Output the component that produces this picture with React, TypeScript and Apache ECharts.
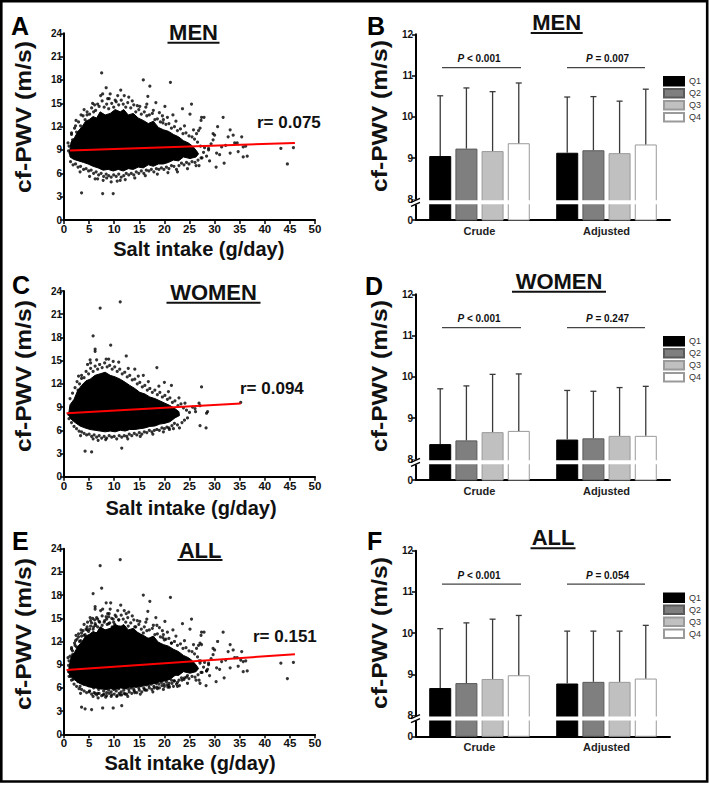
import React, { useEffect, useRef } from "react";
import * as echarts from "echarts";

const FONT = 'Arial, "Liberation Sans", Helvetica, sans-serif';

// ---------- Scatter panels (cf-PWV vs salt intake) ----------
// outline of the solid black (densest) area of the men's cloud
const menCore: number[][] = [
  [1.1, 8.7], [1.4, 10.0], [2.1, 10.6], [2.8, 11.4], [3.6, 12.0], [4.3, 12.7], [5.0, 12.9], [5.8, 13.3],
  [6.5, 13.1], [7.2, 13.9], [8.2, 13.5], [9.2, 13.7], [10.2, 14.2], [11.2, 13.9], [11.9, 14.2], [12.8, 13.5],
  [13.8, 13.7], [14.8, 13.1], [15.8, 12.8], [16.8, 12.4], [17.8, 12.7], [18.8, 11.9], [19.8, 11.6], [20.8, 11.4],
  [21.8, 11.0], [22.8, 10.7], [23.8, 10.2], [24.8, 9.9], [25.6, 9.5], [26.4, 8.9], [26.8, 8.5],
  [26.3, 8.1], [25.1, 7.9], [23.8, 8.1], [22.8, 7.6], [21.8, 7.7], [20.8, 7.4], [19.8, 7.2], [18.8, 7.2],
  [17.8, 6.9], [16.8, 7.1], [15.8, 6.7], [14.8, 6.8], [13.8, 6.5], [12.8, 6.6], [11.8, 6.3], [10.8, 6.5],
  [9.8, 6.3], [8.8, 6.5], [7.8, 6.4], [6.8, 6.7], [5.8, 6.9], [4.8, 7.2], [3.9, 7.4], [2.9, 7.6], [1.9, 7.8], [1.2, 8.1],
];
// individual men's points outside the solid area
const menPoints: number[][] = [
  // upper fringe
  [1.5, 11.2], [2.1, 11.8], [2.5, 11.3], [2.9, 12.6], [3.3, 12.1], [3.8, 13.4], [4.2, 12.9], [4.6, 13.9],
  [5.1, 13.6], [5.5, 14.4], [5.9, 13.9], [6.3, 14.1], [6.7, 14.9], [7.0, 14.6], [7.6, 15.3], [8.0, 14.5],
  [8.5, 14.9], [8.9, 14.3], [9.5, 15.0], [9.9, 14.5], [10.4, 15.2], [10.9, 14.8], [11.4, 15.4], [11.8, 14.9],
  [12.3, 14.5], [12.7, 15.1], [13.3, 14.4], [13.9, 14.8], [14.3, 13.9], [14.9, 14.2], [15.4, 13.6], [16.0, 13.9],
  [16.5, 13.4], [17.0, 13.5], [17.6, 13.7], [18.1, 12.9], [18.6, 13.0], [19.2, 12.6], [19.7, 12.5], [20.3, 12.3],
  [20.9, 12.4], [21.4, 11.8], [22.0, 12.0], [22.6, 11.5], [23.2, 11.7], [23.7, 11.1], [24.3, 11.2], [24.9, 10.8],
  [25.5, 10.7], [26.0, 10.4], [26.6, 10.0], [27.2, 9.5], [27.3, 12.8], [26.8, 11.5],
  [2.4, 12.8], [4.0, 14.2], [5.7, 15.0], [6.1, 14.8], [8.7, 15.6], [9.2, 16.2], [10.7, 16.0], [12.9, 15.8],
  [13.6, 15.3], [15.1, 14.6], [16.3, 14.5], [17.8, 14.1], [19.0, 13.8], [20.6, 13.2], [22.3, 12.7], [24.0, 12.1],
  [25.8, 11.6], [21.7, 13.5],
  // right tail
  [28.0, 9.3], [28.8, 9.0], [29.3, 9.8], [29.7, 11.1], [29.7, 10.3], [30.4, 8.6], [30.3, 6.8], [31.4, 9.4],
  [31.7, 13.2], [31.9, 7.3], [32.7, 10.7], [33.1, 11.6], [33.1, 8.6], [33.7, 10.9], [34.0, 9.9], [34.7, 8.8],
  [35.4, 10.7], [35.7, 9.4], [35.7, 8.1], [36.2, 9.5], [36.5, 8.2], [43.2, 9.2], [45.7, 9.3], [44.5, 7.2],
  [28.4, 8.2], [29.0, 7.6], [27.5, 8.0], [27.1, 11.8], [26.4, 11.1], [27.4, 13.2], [27.9, 13.2], [26.3, 7.0],
  [30.0, 10.9], [31.0, 8.4], [32.2, 9.6], [34.5, 9.9], [30.6, 12.0], [28.8, 9.2], [27.8, 8.7],
  // lower fringe
  [1.3, 7.5], [1.8, 7.1], [2.3, 7.2], [2.8, 6.8], [3.3, 6.9], [3.9, 6.5], [4.4, 6.6], [4.9, 6.3], [5.4, 6.4],
  [5.9, 6.0], [6.4, 6.2], [6.9, 5.8], [7.4, 6.0], [7.9, 5.6], [8.4, 5.9], [8.9, 5.7], [9.4, 5.5], [9.9, 5.8],
  [10.4, 5.6], [10.9, 5.9], [11.4, 5.5], [11.9, 5.7], [12.4, 6.0], [12.9, 5.8], [13.4, 6.0], [13.9, 5.8],
  [14.4, 6.2], [14.9, 6.0], [15.4, 6.3], [15.9, 6.0], [16.4, 6.4], [16.9, 6.3], [17.4, 6.5], [17.9, 6.2],
  [18.4, 6.6], [18.9, 6.5], [19.4, 6.7], [19.9, 6.5], [20.4, 6.8], [20.9, 6.6], [21.4, 7.0], [21.9, 6.9],
  [22.4, 6.5], [22.9, 7.0], [23.4, 7.3], [23.9, 7.1], [24.4, 7.4], [24.9, 7.2], [25.5, 7.5], [26.1, 7.4],
  [26.7, 7.7], [27.3, 8.0],
  [3.2, 6.2], [5.1, 5.6], [6.7, 5.3], [10.6, 5.0], [12.2, 5.2], [14.1, 5.4], [16.2, 5.7], [18.6, 5.9],
  [20.7, 6.1], [22.6, 6.2], [24.6, 6.6], [26.9, 7.0],
  // isolated low and high values
  [3.5, 3.5], [7.7, 3.4], [9.8, 3.4], [9.4, 4.9], [7.8, 5.1], [8.5, 5.4], [6.2, 5.3], [11.2, 5.1],
  [7.5, 18.9], [8.4, 17.0], [7.7, 16.2], [11.3, 16.7], [15.8, 18.0], [17.1, 17.2], [21.2, 17.7], [16.7, 15.9],
  [16.5, 14.9], [18.3, 15.1], [20.1, 14.6], [23.6, 14.3], [25.4, 14.9], [25.1, 13.6], [19.6, 13.4], [19.8, 12.9],
  [10.2, 15.4], [2.3, 12.1], [3.4, 13.5], [4.6, 13.5], [7.3, 16.0], [9.0, 15.6], [12.0, 16.0], [14.6, 14.7],
  // left edge
  [1.5, 11.0], [1.7, 10.3], [1.2, 8.6], [0.9, 8.9], [1.0, 9.5], [0.8, 9.9],
];
const womenCore: number[][] = [
  [0.9, 8.0], [1.2, 9.3], [2.0, 10.0], [2.7, 11.1], [3.5, 11.8], [4.4, 12.4], [5.2, 12.6], [6.2, 13.1],
  [7.2, 13.3], [8.2, 13.5], [9.2, 13.1], [10.2, 12.9], [11.2, 12.6], [12.2, 12.2], [13.1, 11.8], [14.1, 11.4],
  [15.1, 10.9], [16.1, 10.7], [17.1, 10.3], [18.1, 10.1], [19.1, 9.8], [20.1, 9.5], [21.1, 9.2], [22.1, 8.8],
  [22.9, 8.4], [23.0, 7.9], [22.1, 7.6], [21.1, 7.1], [20.1, 6.9], [19.1, 6.8], [18.1, 6.55], [17.1, 6.5],
  [16.1, 6.3], [15.1, 6.2], [14.1, 6.1], [13.1, 6.1], [12.2, 5.9], [11.2, 6.0], [10.2, 5.8], [9.2, 5.9],
  [8.2, 5.8], [7.2, 5.9], [6.2, 6.0], [5.2, 6.1], [4.2, 6.3], [3.2, 6.55], [2.2, 7.0], [1.3, 7.5],
];
const womenPoints: number[][] = [
  // upper fringe
  [1.2, 10.1], [1.7, 10.8], [2.2, 11.5], [2.6, 12.3], [3.1, 12.0], [3.5, 13.1], [4.0, 12.8], [4.4, 13.6],
  [4.9, 13.3], [5.3, 14.0], [5.8, 13.6], [6.2, 14.3], [6.7, 13.9], [7.1, 14.5], [7.6, 14.1], [8.1, 14.7],
  [8.6, 14.2], [9.1, 14.4], [9.6, 13.9], [10.1, 14.2], [10.6, 13.6], [11.1, 13.9], [11.6, 13.3], [12.1, 13.5],
  [12.6, 12.9], [13.1, 13.1], [13.6, 12.5], [14.1, 12.6], [14.6, 12.0], [15.1, 12.2], [15.6, 11.6], [16.1, 11.8],
  [16.6, 11.2], [17.1, 11.4], [17.6, 10.9], [18.1, 11.2], [18.6, 10.6], [19.1, 10.9], [19.6, 10.3], [20.1, 10.5],
  [20.6, 10.0], [21.1, 10.2], [21.6, 9.6], [22.1, 9.8], [22.7, 9.2], [23.3, 9.4], [23.8, 8.9], [24.4, 8.6],
  [25.0, 8.3], [24.6, 7.6], [24.0, 7.3], [23.5, 7.0],
  [2.9, 13.0], [4.7, 14.5], [6.5, 15.1], [8.9, 15.2], [10.9, 14.8], [12.8, 14.0], [14.8, 13.0], [16.8, 12.3],
  [18.9, 11.7], [20.8, 11.0], [22.9, 10.2],
  // lower fringe
  [1.0, 7.5], [1.5, 7.0], [2.0, 6.5], [2.5, 6.2], [3.0, 5.9], [3.5, 5.8], [4.0, 5.6], [4.5, 5.4], [5.0, 5.5],
  [5.5, 5.2], [6.0, 5.4], [6.5, 5.1], [7.0, 5.3], [7.5, 5.0], [8.0, 5.2], [8.5, 5.0], [9.0, 5.3], [9.5, 5.1],
  [10.0, 5.2], [10.5, 4.9], [11.0, 5.3], [11.5, 5.1], [12.0, 5.3], [12.5, 5.2], [13.0, 5.5], [13.5, 5.3],
  [14.0, 5.6], [14.5, 5.4], [15.0, 5.7], [15.5, 5.5], [16.0, 5.8], [16.5, 5.7], [17.0, 6.0], [17.5, 5.8],
  [18.0, 6.0], [18.5, 6.1], [19.0, 6.0], [19.5, 6.3], [20.0, 6.2], [20.5, 6.4], [21.0, 6.1], [21.5, 6.6],
  [22.0, 6.9], [22.6, 6.7],
  [3.3, 5.3], [5.8, 4.9], [8.3, 4.8], [12.7, 4.9], [15.2, 5.2], [17.7, 5.5], [19.8, 5.8], [23.0, 6.3],
  // isolated values
  [7.2, 21.8], [11.2, 22.6], [5.8, 18.2], [9.3, 17.0], [6.2, 16.5], [6.2, 16.2], [12.4, 15.6], [5.2, 15.1],
  [5.3, 14.7], [18.5, 14.1], [14.1, 13.9], [15.8, 13.1], [20.0, 12.2], [21.4, 11.8], [27.4, 11.6], [35.2, 9.6],
  [28.6, 8.4], [28.4, 8.2], [27.1, 9.2], [26.9, 9.5], [26.1, 8.8], [26.2, 8.4], [24.1, 9.5], [27.1, 6.6],
  [28.3, 6.3], [20.9, 6.3], [4.2, 3.3], [5.5, 3.2], [11.5, 3.7], [6.8, 4.7], [2.8, 11.2], [3.5, 12.7],
  [2.0, 9.5], [1.5, 8.4], [0.9, 8.1], [9.8, 14.9], [8.4, 15.2], [25.6, 9.0], [21.8, 6.2],
];
// regression lines [start, end]
const menFit: number[][] = [[1.2, 8.95], [46, 9.9]];
const womenFit: number[][] = [[0.5, 8.2], [35.2, 9.45]];
const allFit: number[][] = [[0.5, 8.3], [46, 10.35]];
const rValues = ["0.075", "0.094", "0.151"];

// ---------- Bar panels (quartiles of salt intake) ----------
const groups = ["Crude", "Adjusted"];
const quartiles = ["Q1", "Q2", "Q3", "Q4"];
// [quartile][crude, adjusted]
const menMeans = [[9.05, 9.13], [9.23, 9.19], [9.17, 9.12], [9.36, 9.33]];
const menUpper = [[10.51, 10.48], [10.70, 10.49], [10.61, 10.38], [10.82, 10.67]];
const womenMeans = [[8.37, 8.48], [8.46, 8.51], [8.66, 8.57], [8.69, 8.57]];
const womenUpper = [[9.71, 9.67], [9.78, 9.65], [10.06, 9.74], [10.07, 9.77]];
const allMeans = [[8.67, 8.78], [8.79, 8.82], [8.89, 8.82], [8.98, 8.90]];
const allUpper = [[10.11, 10.05], [10.25, 10.05], [10.34, 10.05], [10.43, 10.19]];
const menP = ["< 0.001", "= 0.007"];
const womenP = ["< 0.001", "= 0.247"];
const allP = ["< 0.001", "= 0.054"];
const barTicks = [7.5, 8, 9, 10, 11, 12];

const BAR_W = 22;
const BAR_GAP = 0.19;

const scatterGrids = [
  { left: 64, top: 33.3, width: 251, height: 186.7 },
  { left: 64, top: 291, width: 251, height: 185.7 },
  { left: 64, top: 548.7, width: 251, height: 185.6 },
];
const barGrids = [
  { left: 416, top: 34.3, width: 254, height: 185.7 },
  { left: 416, top: 294.3, width: 254, height: 185.7 },
  { left: 416, top: 550.7, width: 254, height: 185.6 },
];

const qColors = ["#000000", "#7f7f7f", "#c0c0c0", "#ffffff"];
const qBorders = ["#000000", "#5a5a5a", "#9a9a9a", "#9a9a9a"];

function coreSeries(core: number[][], idx: number) {
  return {
    type: "custom",
    xAxisIndex: idx,
    yAxisIndex: idx,
    data: core,
    silent: true,
    z: 2,
    renderItem: (params: any, api: any) => {
      if (params.dataIndex !== 0) return { type: "group", children: [] };
      const pts = core.map((p) => api.coord(p));
      return { type: "polygon", shape: { points: pts }, style: { fill: "#000", stroke: "#000", lineWidth: 1 } };
    },
  };
}

function errorSeries(means: number[][], upper: number[][], idx: number) {
  const data: number[][] = [];
  for (let q = 0; q < 4; q++) for (let c = 0; c < 2; c++) data.push([c, q, means[q][c], upper[q][c]]);
  return {
    type: "custom",
    xAxisIndex: idx,
    yAxisIndex: idx,
    data,
    silent: true,
    z: 5,
    encode: { x: 0, y: [2, 3] },
    renderItem: (_p: any, api: any) => {
      const c = api.value(0);
      const q = api.value(1);
      const lo = api.coord([c, api.value(2)]);
      const hi = api.coord([c, api.value(3)]);
      const x = lo[0] + (q - 1.5) * (BAR_W * (1 + BAR_GAP));
      const st = { stroke: "#3a3a3a", lineWidth: 1.3 };
      return {
        type: "group",
        children: [
          { type: "line", shape: { x1: x, y1: lo[1], x2: x, y2: hi[1] }, style: st },
          { type: "line", shape: { x1: x - 3, y1: hi[1], x2: x + 3, y2: hi[1] }, style: st },
        ],
      };
    },
  };
}

const axisLine = { show: true, onZero: false, lineStyle: { color: "#000", width: 2 } };
const axisTick = { show: true, length: 4, lineStyle: { color: "#000", width: 1.5 } };

export default function App() {
  const ref = useRef<HTMLDivElement>(null);
  useEffect(() => {
    if (!ref.current) return;
    const chart = echarts.init(ref.current, undefined, { renderer: "svg" });

    const xAxes: any[] = [];
    const yAxes: any[] = [];
    scatterGrids.forEach((_g, i) => {
      xAxes.push({
        type: "value", gridIndex: i, min: 0, max: 50, interval: 5,
        axisLine, axisTick, splitLine: { show: false },
        axisLabel: { fontSize: 11.5, fontWeight: "bold", color: "#111", fontFamily: FONT, margin: 3 },
      });
      yAxes.push({
        type: "value", gridIndex: i, min: 0, max: 24, interval: 3,
        axisLine, axisTick, splitLine: { show: false },
        axisLabel: { fontSize: 10, fontWeight: "bold", color: "#111", fontFamily: FONT, margin: 2 },
      });
    });
    barGrids.forEach((_g, i) => {
      xAxes.push({
        type: "category", gridIndex: 3 + i, data: groups,
        axisLine, axisTick: { show: false },
        axisLabel: { fontSize: 11, fontWeight: "bold", color: "#222", fontFamily: FONT, margin: 5 },
      });
      yAxes.push({
        type: "value", gridIndex: 3 + i, min: 7.5, max: 12, interval: 0.5,
        axisLine, splitLine: { show: false },
        axisTick: { ...axisTick, customValues: barTicks },
        axisLabel: {
          customValues: barTicks,
          fontSize: 10, fontWeight: "bold", color: "#111", fontFamily: FONT, margin: 3,
          formatter: (v: number) => (v === 7.5 ? "0" : String(v)),
        },
      });
    });

    const series: any[] = [];
    const cores = [[menCore], [womenCore], [menCore, womenCore]];
    const pts = [menPoints, womenPoints, menPoints.concat(womenPoints)];
    const fits = [menFit, womenFit, allFit];
    for (let i = 0; i < 3; i++) {
      cores[i].forEach((c) => series.push(coreSeries(c, i)));
      series.push({
        type: "scatter", xAxisIndex: i, yAxisIndex: i, data: pts[i], symbolSize: 3.2,
        itemStyle: { color: "#000" }, silent: true, z: 3,
      });
      series.push({
        type: "line", xAxisIndex: i, yAxisIndex: i, data: fits[i], showSymbol: false,
        lineStyle: { color: "#ff0000", width: 2 }, silent: true, z: 6,
      });
    }
    const means = [menMeans, womenMeans, allMeans];
    const uppers = [menUpper, womenUpper, allUpper];
    for (let i = 0; i < 3; i++) {
      quartiles.forEach((q, k) => {
        series.push({
          type: "bar", name: q, xAxisIndex: 3 + i, yAxisIndex: 3 + i, data: means[i][k],
          barWidth: BAR_W, barGap: BAR_GAP * 100 + "%",
          itemStyle: { color: qColors[k], borderColor: qBorders[k], borderWidth: 1 },
          silent: true, z: 3,
        });
      });
      series.push(errorSeries(means[i], uppers[i], 3 + i));
    }

    const graphic: any[] = [];
    const text = (t: string, x: number, y: number, size: number, extra: any = {}, style: any = {}) => {
      graphic.push({
        type: "text", x, y, z: 100, silent: true, ...extra,
        style: {
          text: t, fontSize: size, fontWeight: "bold", fontFamily: FONT, fill: "#111",
          align: "center", verticalAlign: "middle", ...style,
        },
      });
    };
    const line = (x1: number, y1: number, x2: number, y2: number, stroke: string, lw: number) => {
      graphic.push({ type: "line", z: 100, silent: true, shape: { x1, y1, x2, y2 }, style: { stroke, lineWidth: lw } });
    };

    // outer frame
    graphic.push({
      type: "rect", z: 100, silent: true,
      shape: { x: 1.3, y: 1.3, width: 705.9, height: 780.2 },
      style: { fill: "none", stroke: "#000", lineWidth: 2.6 },
    });
    // panel letters
    const letters: [string, number, number][] = [
      ["A", 11, 26], ["B", 367, 25.5], ["C", 12, 284.5], ["D", 365, 285.5], ["E", 12, 540.5], ["F", 367, 541],
    ];
    letters.forEach(([t, x, y]) => text(t, x, y, 25, {}, { align: "left", fill: "#000" }));
    // titles with underline
    const titles: [string, number, number, number, number][] = [
      ["MEN", 193.5, 32.5, 42.7, 52], ["MEN", 556.7, 22.5, 33, 52],
      ["WOMEN", 213.5, 292.5, 302.7, 94], ["WOMEN", 559, 281.7, 291.7, 94],
      ["ALL", 200, 550, 560, 45], ["ALL", 553, 537.5, 548.3, 45],
    ];
    titles.forEach(([t, x, y, uy, w]) => {
      text(t, x, y, 22, {}, { fill: "#111" });
      line(x - w / 2, uy, x + w / 2, uy, "#111", 2);
    });
    // y axis names
    const yNames: [number, number][] = [[23, 117], [23, 376], [23, 634], [379, 116], [379, 376], [379, 633]];
    yNames.forEach(([x, y]) => text("cf-PWV (m/s)", x, y, 22, { rotation: Math.PI / 2, scaleX: 1.12 }, { fill: "#111" }));
    // x axis names of scatter panels
    const xNames: [number, number][] = [[198.8, 249], [191, 508], [190, 763]];
    xNames.forEach(([x, y]) => text("Salt intake (g/day)", x, y, 20, {}, { fill: "#111" }));
    // correlation coefficients
    const rPos: [number, number][] = [[257, 122], [240, 388], [253, 636]];
    rPos.forEach(([x, y], i) => text("r= " + rValues[i], x, y, 17, {}, { align: "left", fill: "#111" }));
    // P values
    const pVals = [menP, womenP, allP];
    barGrids.forEach((g, i) => {
      const ty = g.top + 24.5;
      const ly = g.top + 33.4;
      const rich = { i: { fontStyle: "italic", fontWeight: "bold", fontSize: 10, fontFamily: FONT, fill: "#111" } };
      text("{i|P} " + pVals[i][0], 479, ty, 10, {}, { rich });
      text("{i|P} " + pVals[i][1], 607.5, ty, 10, {}, { rich });
      line(442, ly, 521, ly, "#444", 1.3);
      line(567, ly, 645, ly, "#444", 1.3);
      // axis break
      const y8 = g.top + g.height * (12 - 8) / 4.5;
      graphic.push({
        type: "rect", z: 90, silent: true,
        shape: { x: 420, y: y8 + 0.8, width: 246, height: 4 },
        style: { fill: "#fff" },
      });
      graphic.push({
        type: "rect", z: 90, silent: true,
        shape: { x: 413, y: y8 + 0.3, width: 6, height: 5 },
        style: { fill: "#fff" },
      });
      line(411, y8 + 3, 420, y8 - 1, "#000", 1.4);
      line(411, y8 + 7, 420, y8 + 3, "#000", 1.4);
    });

    chart.setOption({
      animation: false,
      backgroundColor: "#fff",
      grid: [...scatterGrids, ...barGrids].map((g) => ({ ...g, containLabel: false })),
      xAxis: xAxes,
      yAxis: yAxes,
      legend: barGrids.map((g) => ({
        data: quartiles, orient: "vertical", left: 663, top: g.top + 41.7,
        itemWidth: 20, itemHeight: 8.5, itemGap: 1.5, icon: "rect", padding: 0,
        selectedMode: false,
        textStyle: { fontSize: 9, color: "#333", fontFamily: FONT, lineHeight: 9 },
      })),
      series,
      graphic,
    });
    return () => chart.dispose();
  }, []);
  return <div ref={ref} style={{ position: "fixed", left: 0, top: 0, width: 709, height: 786 }} />;
}
